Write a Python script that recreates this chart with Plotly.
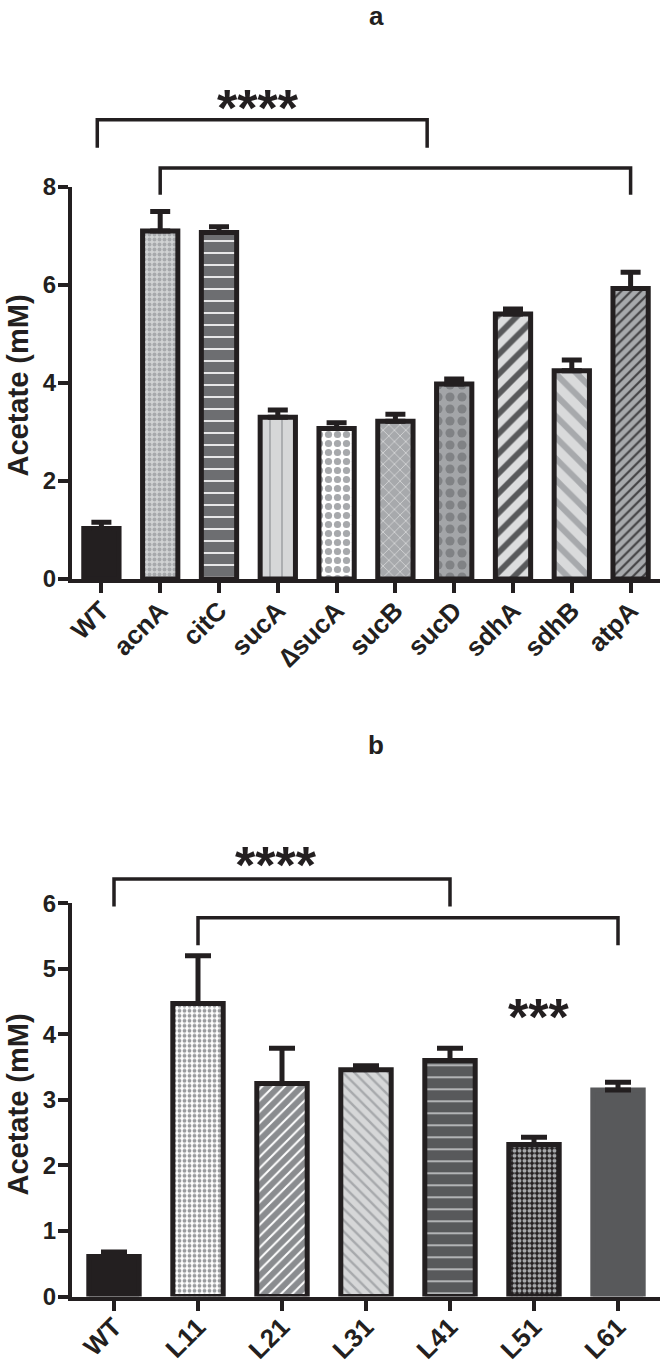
import plotly.graph_objects as go

# ---------------- data ----------------
cats_a = ["WT", "acnA", "citC", "sucA", "\u2206sucA", "sucB", "sucD", "sdhA", "sdhB", "atpA"]
vals_a = [1.03, 7.10, 7.07, 3.30, 3.07, 3.22, 3.98, 5.41, 4.25, 5.93]
errs_a = [0.13, 0.40, 0.12, 0.15, 0.12, 0.14, 0.10, 0.10, 0.22, 0.33]

cats_b = ["WT", "L11", "L21", "L31", "L41", "L51", "L61"]
vals_b = [0.61, 4.47, 3.25, 3.46, 3.60, 2.32, 3.15]
errs_b = [0.07, 0.73, 0.54, 0.06, 0.19, 0.11, 0.12]

yticks_a = [0, 2, 4, 6, 8]
yticks_b = [0, 1, 2, 3, 4, 5, 6]
ymax_a = 8
ymax_b = 6

# significance brackets: (left category index, right category index, top value, bottom value)
brackets_a = [(-0.07, 5.54, 9.37, 8.80), (1.0, 9.0, 8.39, 7.84)]
brackets_b = [(0.0, 4.0, 6.37, 5.95), (1.0, 6.0, 5.78, 5.36)]
stars_a = [("****", 2.66, 9.62)]
stars_b = [("****", 1.93, 6.58), ("***", 5.05, 4.26)]

# ---------------- styles ----------------
INK = "#231f20"
style_a = dict(
    shape=["", ".", "-", "|", ".", "x", ".", "/", "\\", "/"],
    bg=["#231f20", "#d1d3d4", "#6d6e71", "#d6d7d8", "#ffffff", "#a7a9ac", "#a3a5a8", "#dcddde", "#d9dadb", "#a7a9ac"],
    fg=["#231f20", "#a7a9ac", "#ffffff", "#a7a9ac", "#a7a9ac", "#d6d7d8", "#808285", "#58595b", "#a7a9ac", "#414042"],
    size=[8, 5, 12, 12, 9, 8, 12, 14, 15, 7],
    sol=[0.3, 0.5, 0.14, 0.15, 0.5, 0.2, 0.45, 0.42, 0.4, 0.3],
    line=[INK] * 10,
)
style_b = dict(
    shape=["", ".", "/", "\\", "-", ".", ""],
    bg=["#231f20", "#ffffff", "#8a8c8f", "#d6d7d8", "#58595b", "#231f20", "#58595b"],
    fg=["#231f20", "#9a9c9f", "#ffffff", "#a7a9ac", "#bcbec0", "#a7a9ac", "#58595b"],
    size=[8, 5, 8, 8, 12, 5, 8],
    sol=[0.3, 0.45, 0.25, 0.3, 0.15, 0.5, 0.3],
    line=[INK, INK, INK, INK, INK, INK, "#58595b"],
)

FONT = "Liberation Sans, Arial, Helvetica, sans-serif"
OFF = 0                      # page body margin is removed by the post script
W, H = 663 - OFF, 1367 - OFF
ML = 72 - OFF
PW = 588
MR = W - ML - PW


def py(p):  # page pixel y -> paper fraction
    return 1 - (p - OFF) / H


def px(p):  # page pixel x -> paper fraction
    return (p - OFF - ML) / PW


dom_a = [py(579), py(187)]
dom_b = [py(1296.5), py(903.3)]

fig = go.Figure()


def add_bars(cats, vals, errs, st, xa, ya, capw):
    for i in range(len(cats)):
        pat = dict(shape=st["shape"][i], fgcolor=st["fg"][i], bgcolor=st["bg"][i],
                   size=st["size"][i], solidity=st["sol"][i], fillmode="overlay", fgopacity=1)
        fig.add_trace(go.Bar(
            x=[i], y=[vals[i]], width=0.6, xaxis=xa, yaxis=ya,
            marker=dict(color=st["bg"][i], line=dict(color=st["line"][i], width=5), pattern=pat),
            error_y=dict(type="data", array=[errs[i]], arrayminus=[0], symmetric=False,
                         color=INK, thickness=5, width=capw),
            showlegend=False, hoverinfo="skip",
        ))


add_bars(cats_a, vals_a, errs_a, style_a, "x", "y", 10)
add_bars(cats_b, vals_b, errs_b, style_b, "x2", "y2", 13)

axis_common = dict(showline=True, linewidth=4, linecolor=INK, ticks="outside", ticklen=10,
                   tickwidth=4, tickcolor=INK, showgrid=False, zeroline=False, automargin=False)
yfont = dict(family=FONT, size=24, color=INK, weight="bold")
xfont = dict(family=FONT, size=26, color=INK, weight="bold")

fig.update_layout(
    width=W, height=H, margin=dict(l=ML, r=MR, t=0, b=0, autoexpand=False),
    paper_bgcolor="white", plot_bgcolor="white", barmode="overlay",
    xaxis=dict(domain=[0, 1], anchor="y", range=[-0.5, len(cats_a) - 0.5], tickfont=xfont,
               tickvals=list(range(len(cats_a))), ticktext=cats_a, tickangle=-45,
               ticklabelstandoff=-8, **axis_common),
    yaxis=dict(domain=dom_a, anchor="x", range=[0, ymax_a], tickvals=yticks_a, tickfont=yfont,
               ticklabelstandoff=-3, **axis_common),
    xaxis2=dict(domain=[0, 1], anchor="y2", range=[-0.5, len(cats_b) - 0.5], tickfont=xfont,
                tickvals=list(range(len(cats_b))), ticktext=cats_b, tickangle=-45,
                ticklabelstandoff=-9, **axis_common),
    yaxis2=dict(domain=dom_b, anchor="x2", range=[0, ymax_b], tickvals=yticks_b, tickfont=yfont,
                ticklabelstandoff=-3, **axis_common),
)

shapes = []
annots = []


def add_marks(brs, stars, n, ymax, dom):
    fx = lambda v: (v + 0.5) / n
    fy = lambda v: dom[0] + v / ymax * (dom[1] - dom[0])
    for (xl, xr, yt, yb) in brs:
        shapes.append(dict(
            type="path", xref="paper", yref="paper",
            path=f"M {fx(xl)} {fy(yb)} L {fx(xl)} {fy(yt)} L {fx(xr)} {fy(yt)} L {fx(xr)} {fy(yb)}",
            line=dict(color=INK, width=3.5), layer="above"))
    for (txt, xc, yc) in stars:
        annots.append(dict(text=txt, x=fx(xc), y=fy(yc), xref="paper", yref="paper", showarrow=False,
                           xanchor="center", yanchor="middle",
                           font=dict(family=FONT, size=52, color=INK, weight="bold")))


add_marks(brackets_a, stars_a, len(cats_a), ymax_a, dom_a)
add_marks(brackets_b, stars_b, len(cats_b), ymax_b, dom_b)

for label, ytop, ymid in [("a", 15.5, 386), ("b", 745, 1105)]:
    annots.append(dict(text=label, x=px(376), y=py(ytop), xref="paper", yref="paper",
                       showarrow=False, yanchor="middle",
                       font=dict(family=FONT, size=26, color=INK, weight="bold")))
    annots.append(dict(text="Acetate (mM)", x=px(17.5), y=py(ymid), xref="paper", yref="paper",
                       showarrow=False, textangle=-90, xanchor="center", yanchor="middle",
                       font=dict(family=FONT, size=29, color=INK, weight="bold")))

fig.update_layout(shapes=shapes, annotations=annots)
fig.write_html("out.html", config={"displayModeBar": False},
               post_script="document.body.style.margin='0px';")
